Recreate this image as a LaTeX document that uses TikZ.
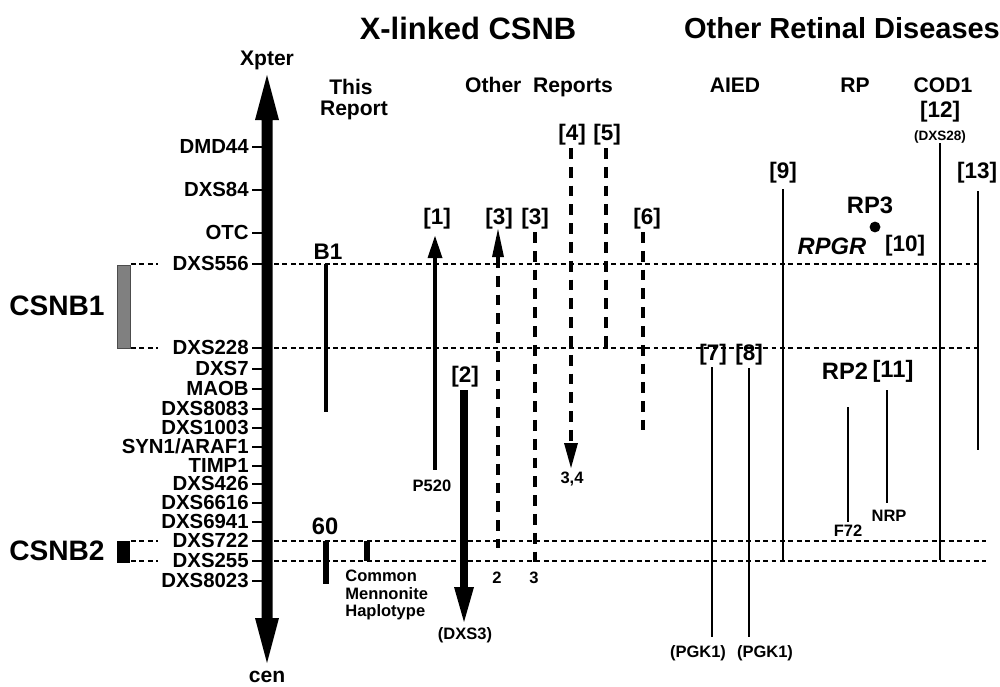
\documentclass[tikz,border=0pt]{standalone}
\usepackage{fontspec}
\setmainfont{Liberation Sans}
\newcommand\myfs[1]{\fontsize{#1}{#1}\selectfont\bfseries}
\tikzset{
  mk/.style={font=\myfs{11.6}, anchor=east, inner sep=0pt, text height=0.72em, text depth=0pt},
  lab/.style={font=\myfs{12.8}, inner sep=0pt},
  big/.style={font=\myfs{13.5}, inner sep=0pt},
  sml/.style={font=\myfs{9.4}, inner sep=0pt},
  tiny/.style={font=\myfs{7.7}, inner sep=0pt},
  hdr/.style={font=\myfs{16.5}, inner sep=0pt},
  thinbar/.style={line width=1.4pt},
  dbar/.style={line width=2.8pt, dash pattern=on 6.2pt off 4.5pt},
  hdash/.style={line width=0.8pt, dash pattern=on 2.8pt off 2pt},
  tick/.style={line width=0.9pt},
}
\begin{document}
\begin{tikzpicture}[x=0.02cm, y=-0.02cm]
\useasboundingbox (0,0) rectangle (1000,686);

% headers
\node[hdr, font=\myfs{17.6}] (h1) at (468,28) {X-linked CSNB};
\node[hdr] (h2) at (842,28) {Other Retinal Diseases};
\node[lab, font=\myfs{12}] (tr1) at (351,87) {This};
\node[lab, font=\myfs{12}] (tr2) at (354,110) {Report};
\node[lab, font=\myfs{12}] (or) at (539,87) {Other\ \ Reports};
\node[lab, font=\myfs{12}] (aied) at (735,85) {AIED};
\node[lab, font=\myfs{12}] (rp) at (855,85) {RP};
\node[lab, font=\myfs{12}] (cod) at (943,85) {COD1};

% main chromosome arrow
\fill (255,120) -- (267,75) -- (279,120) -- (272.5,120) -- (272.5,618)
  -- (279,618) -- (267,663) -- (255,618) -- (261.5,618) -- (261.5,120) -- cycle;
\node[lab, font=\myfs{12}] (xp) at (267,60) {Xpter};
\node[lab, font=\myfs{12}] (cen) at (267,677) {cen};

% markers
\foreach \y/\t [count=\i] in {147/DMD44, 190/DXS84, 233/OTC, 264/DXS556, 348/DXS228,
  369/DXS7, 389/MAOB, 409/DXS8083, 428/DXS1003, 447/{SYN1/ARAF1}, 466/TIMP1,
  484/DXS426, 503/DXS6616, 522/DXS6941, 541/DXS722, 561/DXS255, 581/DXS8023}{
  \node[mk] (m\i) at (249,\y) {\t};
  \draw[tick] (252,\y) -- (262,\y);
}

% dashed horizontal lines
\draw[hdash] (131,264) -- (158,264);
\draw[hdash] (274,264) -- (978,264);
\draw[hdash] (131,348) -- (158,348);
\draw[hdash] (274,348) -- (978,348);
\draw[hdash] (131,541) -- (158,541);
\draw[hdash] (274,541) -- (986,541);
\draw[hdash] (131,561) -- (158,561);
\draw[hdash] (274,561) -- (986,561);

% CSNB boxes
\filldraw[fill=black!50, draw=black!70, line width=0.4pt] (117,265) rectangle (130,348);
\fill (117,541) rectangle (130,563);
\node[font=\myfs{16}, inner sep=0pt] (c1) at (57,306) {CSNB1};
\node[font=\myfs{16}, inner sep=0pt] (c2) at (57,551) {CSNB2};

% This report
\node[lab] (b1) at (328,252) {B1};
\draw[line width=2.8pt] (326,264) -- (326,412);
\node[big] (n60) at (325,526) {60};
\draw[line width=3.4pt] (326,541) -- (326,584);
\draw[line width=3.6pt] (367,541) -- (367,561);
\node[sml] (cm1) at (345,576) [anchor=west] {Common};
\node[sml] (cm2) at (345,594) [anchor=west] {Mennonite};
\node[sml] (cm3) at (345,612) [anchor=west] {Haplotype};

% [1]
\node[lab] (r1) at (437,219) {[1]};
\fill (427.5,258) -- (435,236) -- (442.5,258) -- cycle;
\draw[line width=2.3pt] (435,257) -- (435,470);
\node[sml] (p520) at (432,486) {P520};

% [2]
\node[lab] (r2) at (465,377) {[2]};
\draw[line width=4pt] (464,390) -- (464,588);
\fill (454,587) -- (474,587) -- (464,622) -- cycle;
\node[sml] (dxs3) at (465,635) {(DXS3)};

% [3] first
\node[lab] (r3a) at (499,219) {[3]};
\fill (492,257) -- (498,229) -- (504,257) -- cycle;
\draw[dbar] (498,257) -- (498,548);
\node[sml] (l2) at (497,578) {2};

% [3] second
\node[lab] (r3b) at (535,219) {[3]};
\draw[dbar] (535,232) -- (535,562);
\node[sml] (l3) at (534,578) {3};

% [4]
\node[lab] (r4) at (572,135) {[4]};
\draw[dbar] (571,148) -- (571,443);
\fill (564,443) -- (578,443) -- (571,468) -- cycle;
\node[sml] (l34) at (572,479) {3,4};

% [5]
\node[lab] (r5) at (607,135) {[5]};
\draw[dbar] (606,148) -- (606,347);

% [6]
\node[lab] (r6) at (647,219) {[6]};
\draw[dbar] (643,232) -- (643,430);

% AIED
\node[lab] (r7) at (713,355) {[7]};
\draw[thinbar] (712,367) -- (712,637);
\node[sml] (pg1) at (698,653) {(PGK1)};
\node[lab] (r8) at (749,355) {[8]};
\draw[thinbar] (749,368) -- (749,637);
\node[sml] (pg2) at (765,653) {(PGK1)};
\node[lab] (r9) at (783,173) {[9]};
\draw[thinbar] (783,189) -- (783,560);

% RP
\node[big] (rp3) at (870,205) {RP3};
\fill (875,227) circle[radius=3.1pt];
\node[big] (rpgr) at (832,246) {\itshape RPGR};
\node[lab] (r10) at (905,246) {[10]};
\node[big] (rp2) at (845,371) {RP2};
\node[big] (r11) at (893,371) {[11]};
\draw[thinbar] (848,407) -- (848,522);
\node[sml] (f72) at (848,531) {F72};
\draw[thinbar] (887,390) -- (887,503);
\node[sml] (nrp) at (889,516) {NRP};

% COD1
\node[lab] (r12) at (940,112) {[12]};
\node[tiny] (dxs28) at (940,137) {(DXS28)};
\draw[thinbar] (940,143) -- (940,560);
\node[lab] (r13) at (977,173) {[13]};
\draw[thinbar] (978,191) -- (978,450);
\end{tikzpicture}
\end{document}
